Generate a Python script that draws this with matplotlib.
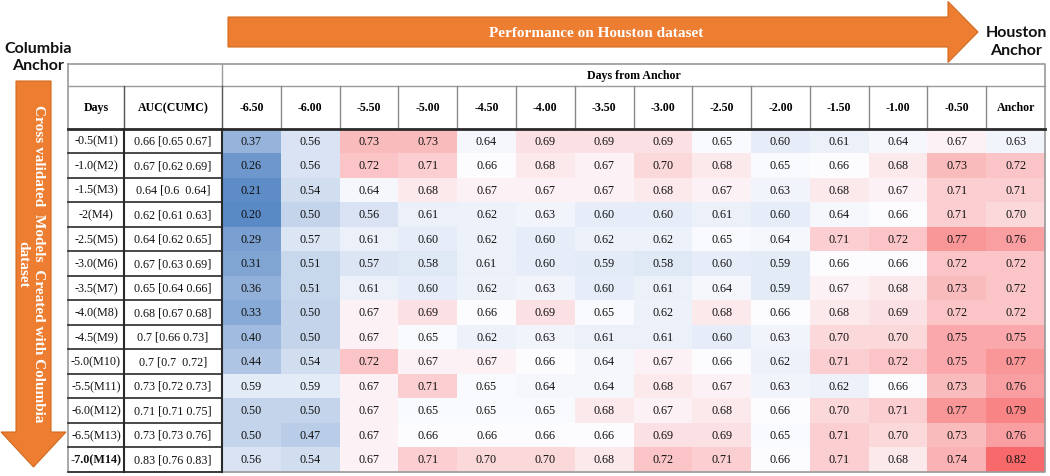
import numpy as np
import matplotlib.pyplot as plt
from matplotlib.colors import LinearSegmentedColormap, TwoSlopeNorm
from matplotlib.patches import FancyArrow

# --- Data ---
row_labels = ["-0.5(M1)", "-1.0(M2)", "-1.5(M3)", "-2(M4)", "-2.5(M5)", "-3.0(M6)", "-3.5(M7)",
              "-4.0(M8)", "-4.5(M9)", "-5.0(M10)", "-5.5(M11)", "-6.0(M12)", "-6.5(M13)", "-7.0(M14)"]
auc_labels = ["0.66 [0.65 0.67]", "0.67 [0.62 0.69]", "0.64 [0.6  0.64]", "0.62 [0.61 0.63]",
              "0.64 [0.62 0.65]", "0.67 [0.63 0.69]", "0.65 [0.64 0.66]", "0.68 [0.67 0.68]",
              "0.7 [0.66 0.73]", "0.7 [0.7  0.72]", "0.73 [0.72 0.73]", "0.71 [0.71 0.75]",
              "0.73 [0.73 0.76]", "0.83 [0.76 0.83]"]
col_labels = ["-6.50", "-6.00", "-5.50", "-5.00", "-4.50", "-4.00", "-3.50", "-3.00",
              "-2.50", "-2.00", "-1.50", "-1.00", "-0.50", "Anchor"]
values = [
    [0.37, 0.56, 0.73, 0.73, 0.64, 0.69, 0.69, 0.69, 0.65, 0.60, 0.61, 0.64, 0.67, 0.63],
    [0.26, 0.56, 0.72, 0.71, 0.66, 0.68, 0.67, 0.70, 0.68, 0.65, 0.66, 0.68, 0.73, 0.72],
    [0.21, 0.54, 0.64, 0.68, 0.67, 0.67, 0.67, 0.68, 0.67, 0.63, 0.68, 0.67, 0.71, 0.71],
    [0.20, 0.50, 0.56, 0.61, 0.62, 0.63, 0.60, 0.60, 0.61, 0.60, 0.64, 0.66, 0.71, 0.70],
    [0.29, 0.57, 0.61, 0.60, 0.62, 0.60, 0.62, 0.62, 0.65, 0.64, 0.71, 0.72, 0.77, 0.76],
    [0.31, 0.51, 0.57, 0.58, 0.61, 0.60, 0.59, 0.58, 0.60, 0.59, 0.66, 0.66, 0.72, 0.72],
    [0.36, 0.51, 0.61, 0.60, 0.62, 0.63, 0.60, 0.61, 0.64, 0.59, 0.67, 0.68, 0.73, 0.72],
    [0.33, 0.50, 0.67, 0.69, 0.66, 0.69, 0.65, 0.62, 0.68, 0.66, 0.68, 0.69, 0.72, 0.72],
    [0.40, 0.50, 0.67, 0.65, 0.62, 0.63, 0.61, 0.61, 0.60, 0.63, 0.70, 0.70, 0.75, 0.75],
    [0.44, 0.54, 0.72, 0.67, 0.67, 0.66, 0.64, 0.67, 0.66, 0.62, 0.71, 0.72, 0.75, 0.77],
    [0.59, 0.59, 0.67, 0.71, 0.65, 0.64, 0.64, 0.68, 0.67, 0.63, 0.62, 0.66, 0.73, 0.76],
    [0.50, 0.50, 0.67, 0.65, 0.65, 0.65, 0.68, 0.67, 0.68, 0.66, 0.70, 0.71, 0.77, 0.79],
    [0.50, 0.47, 0.67, 0.66, 0.66, 0.66, 0.66, 0.69, 0.69, 0.65, 0.71, 0.70, 0.73, 0.76],
    [0.56, 0.54, 0.67, 0.71, 0.70, 0.70, 0.68, 0.72, 0.71, 0.66, 0.71, 0.68, 0.74, 0.82],
]

# --- Layout (pixel space) ---
W, H = 1050, 477
left, days_r, auc_r, right = 68, 124, 222, 1045
top, hdr1_b, hdr2_b, bottom = 65, 86.5, 129.5, 472.7
orange = '#ED7D31'
serif = 'Liberation Serif'
sans = 'Lato'

vals = np.array(values)
n_rows, n_cols = vals.shape
x_edges = np.linspace(auc_r, right, n_cols + 1)
y_edges = np.linspace(hdr2_b, bottom, n_rows + 1)
x_mid = (x_edges[:-1] + x_edges[1:]) / 2
y_mid = (y_edges[:-1] + y_edges[1:]) / 2

# Excel-style 3 colour scale (min / median / max)
cmap = LinearSegmentedColormap.from_list('excel3', ['#5A8AC6', '#FCFCFF', '#F8696B'])
norm = TwoSlopeNorm(vmin=vals.min(), vcenter=np.median(vals), vmax=vals.max())

fig = plt.figure(figsize=(W / 100, H / 100), dpi=100)
ax = fig.add_axes([0, 0, 1, 1])
ax.set_xlim(0, W)
ax.set_ylim(H, 0)
ax.axis('off')

# heatmap cells
ax.pcolormesh(x_edges, y_edges, vals, cmap=cmap, norm=norm, shading='flat', zorder=1)
for i in range(n_rows):
    for j in range(n_cols):
        ax.text(x_mid[j], y_mid[i], f"{vals[i, j]:.2f}", ha='center', va='center',
                fontsize=8.7, family=serif, color='#111111', zorder=3)

# left label columns
for i in range(n_rows):
    bold = 'bold' if i == n_rows - 1 else 'normal'
    ax.text((left + days_r) / 2, y_mid[i], row_labels[i], ha='center', va='center',
            fontsize=8.7, family=serif, fontweight=bold, color='#111111')
    ax.text((days_r + auc_r) / 2, y_mid[i], auc_labels[i], ha='center', va='center',
            fontsize=8.7, family=serif, color='#111111')

# headers
hdr_y = (hdr1_b + hdr2_b) / 2
ax.text((left + days_r) / 2, hdr_y, "Days", ha='center', va='center',
        fontsize=8.6, family=serif, fontweight='bold')
ax.text((days_r + auc_r) / 2, hdr_y, "AUC(CUMC)", ha='center', va='center',
        fontsize=8.6, family=serif, fontweight='bold')
for j, lab in enumerate(col_labels):
    ax.text(x_mid[j], hdr_y, lab, ha='center', va='center',
            fontsize=8.6, family=serif, fontweight='bold')
ax.text((auc_r + right) / 2, (top + hdr1_b) / 2, "Days from Anchor", ha='center', va='center',
        fontsize=8.6, family=serif, fontweight='bold')

# table lines
gray = '#9a9a9a'
dark = '#2a2a2a'
ax.plot([left, right, right, left, left], [top, top, bottom, bottom, top], color=gray, lw=1.2, zorder=4)
ax.plot([left, right], [hdr1_b, hdr1_b], color=gray, lw=1.0, zorder=4)
ax.plot([auc_r, auc_r], [top, hdr1_b], color=gray, lw=1.0, zorder=4)
for x in x_edges[1:-1]:
    ax.plot([x, x], [hdr1_b, hdr2_b], color='#8a8a8a', lw=1.0, zorder=4)
ax.plot([days_r, days_r], [hdr1_b, hdr2_b], color='#555555', lw=1.0, zorder=4)
ax.plot([auc_r, auc_r], [hdr1_b, hdr2_b], color='#555555', lw=1.0, zorder=4)
ax.plot([left, right], [hdr2_b, hdr2_b], color=dark, lw=2.0, zorder=5)
for y in y_edges[1:-1]:
    ax.plot([left, auc_r], [y, y], color=dark, lw=1.2, zorder=4)
ax.plot([left, auc_r], [bottom, bottom], color=dark, lw=1.2, zorder=4)
ax.plot([days_r, days_r], [hdr2_b, bottom], color=dark, lw=1.5, zorder=4)
ax.plot([auc_r, auc_r], [hdr2_b, bottom], color=dark, lw=1.5, zorder=4)

# top arrow
ax.add_patch(FancyArrow(228, 33, 750, 0, width=30, head_width=61, head_length=30,
                        length_includes_head=True, facecolor=orange, edgecolor='#D2691E',
                        lw=0.8, zorder=2))
ax.text(596, 33.5, "Performance on Houston dataset", ha='center', va='center',
        fontsize=11, family=serif, fontweight='bold', color='white', zorder=3)

# left arrow
ax.add_patch(FancyArrow(33.5, 82, 0, 386, width=35, head_width=65, head_length=35,
                        length_includes_head=True, facecolor=orange, edgecolor='#D2691E',
                        lw=0.8, zorder=2))
ax.text(31, 264, "Cross validated  Models  Created with Columbia\ndataset", ha='center',
        va='center', rotation=-90, multialignment='center', linespacing=1.25,
        fontsize=11, family=serif, fontweight='bold', color='white', zorder=3)

# anchor labels
ax.text(38, 57.5, "Columbia\nAnchor", ha='center', va='center', linespacing=1.3,
        fontsize=11.5, family=sans, fontweight='bold', color='#111111')
ax.text(1016, 42, "Houston\nAnchor", ha='center', va='center', linespacing=1.3,
        fontsize=11.5, family=sans, fontweight='bold', color='#111111')

fig.savefig('out.png', dpi=100)
